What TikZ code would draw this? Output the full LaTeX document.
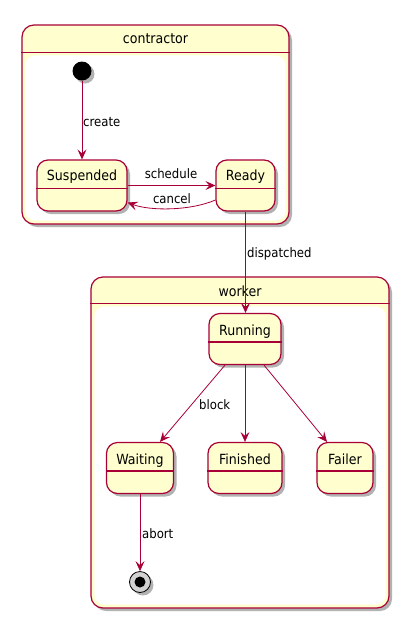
\documentclass[tikz,border=0pt]{standalone}
\usepackage{fontspec}
\setmainfont{DejaVu Sans Condensed}
\usetikzlibrary{
    arrows.meta,
    shadows,
    calc,
    positioning
}
\definecolor{umlred}{HTML}{A80036}
\definecolor{umlfill}{HTML}{FEFECE}
\tikzset{
    umlshadow/.style={drop shadow={shadow xshift=3pt, shadow yshift=-3pt, opacity=0.3, fill=black}},
    compbox/.style={draw=umlred, fill=umlfill, line width=1.2pt, rounded corners=12pt, inner sep=0pt, umlshadow},
    statebox/.style={draw=umlred, fill=umlfill, line width=1.2pt, rounded corners=11pt, minimum height=51pt, inner sep=0pt, umlshadow},
    divider/.style={draw=umlred, line width=1.2pt},
    bigname/.style={anchor=base, inner sep=0pt, font=\fontsize{14}{16}\selectfont},
    lbl/.style={inner sep=0pt, font=\fontsize{13}{15}\selectfont},
    trans/.style={draw=umlred, line width=0.8pt, -{Stealth[length=10pt, width=9pt, inset=4pt]}}
}
\begin{document}
\begin{tikzpicture}[x=1pt, y=-1pt]
    \useasboundingbox (0,0) rectangle (400,619);

    % composite states
    \node[compbox, minimum width=267pt, minimum height=199pt] (contractor) at (155.5,124.5) {};
    \draw[divider] ([yshift=-28pt]contractor.north west) -- ([yshift=-28pt]contractor.north east);
    \fill[white, rounded corners=10pt] ([xshift=4pt, yshift=-31pt]contractor.north west) rectangle ([xshift=-4pt, yshift=4pt]contractor.south east);
    \node[bigname] (contractor-t) at (155.5,43) {contractor};

    \node[compbox, minimum width=298pt, minimum height=331pt] (worker) at (240,442.5) {};
    \draw[divider] ([yshift=-27pt]worker.north west) -- ([yshift=-27pt]worker.north east);
    \fill[white, rounded corners=10pt] ([xshift=4pt, yshift=-30pt]worker.north west) rectangle ([xshift=-4pt, yshift=4pt]worker.south east);
    \node[bigname] (worker-t) at (240,296) {worker};

    % pseudo states
    \node[circle, fill=black, minimum size=19pt, inner sep=0pt, umlshadow] (init) at (82,71) {};
    \node[circle, draw=black, fill=gray!35, line width=0.8pt, minimum size=21pt, inner sep=0pt, umlshadow,
          path picture={\fill[black] (path picture bounding box.center) circle (5.5pt);}] (final) at (140,582) {};

    % states
    \node[statebox, minimum width=90pt] (susp) at (82,185.5) {};
    \node[statebox, minimum width=59pt] (ready) at (245.5,185.5) {};
    \node[statebox, minimum width=72pt] (running) at (245,339) {};
    \node[statebox, minimum width=67pt] (waiting) at (140,468) {};
    \node[statebox, minimum width=74pt] (finished) at (245,468) {};
    \node[statebox, minimum width=56pt] (failer) at (345,468) {};

    \foreach \s in {susp, ready, running, waiting, finished, failer}
        \draw[divider] ([yshift=-29pt]\s.north west) -- ([yshift=-29pt]\s.north east);

    \node[bigname] (susp-t) at (82,180) {Suspended};
    \node[bigname] (ready-t) at (245.5,180) {Ready};
    \node[bigname] (running-t) at (245,335) {Running};
    \node[bigname] (waiting-t) at (140,464) {Waiting};
    \node[bigname] (finished-t) at (245,464) {Finished};
    \node[bigname] (failer-t) at (345,464) {Failer};

    % transitions
    \draw[trans] (init) -- (susp.north);
    \draw[trans] (susp.east) -- (ready.west);
    \draw[trans] ([yshift=-14.5pt]ready.west) .. controls (190,211) and (150,211) .. ([yshift=-17pt]susp.east);
    \draw[trans] (ready.south) -- (ready.south |- running.north);
    \draw[trans] ([xshift=-20pt]running.south) -- ([xshift=20pt]waiting.north);
    \draw[trans] (running.south) -- (finished.north);
    \draw[trans] ([xshift=19pt]running.south) -- ([xshift=-18pt]failer.north);
    \draw[trans] (waiting.south) -- (final);

    % transition labels
    \node[lbl, anchor=base west] (create) at (83,126) {create};
    \node[lbl, anchor=base] (schedule) at (171,178.5) {schedule};
    \node[lbl, anchor=base] (cancel) at (172,203) {cancel};
    \node[lbl, anchor=base west] (dispatched) at (247,257) {dispatched};
    \node[lbl, anchor=base west] (block) at (199,409) {block};
    \node[lbl, anchor=base west] (abort) at (142,538) {abort};
\end{tikzpicture}
\end{document}
